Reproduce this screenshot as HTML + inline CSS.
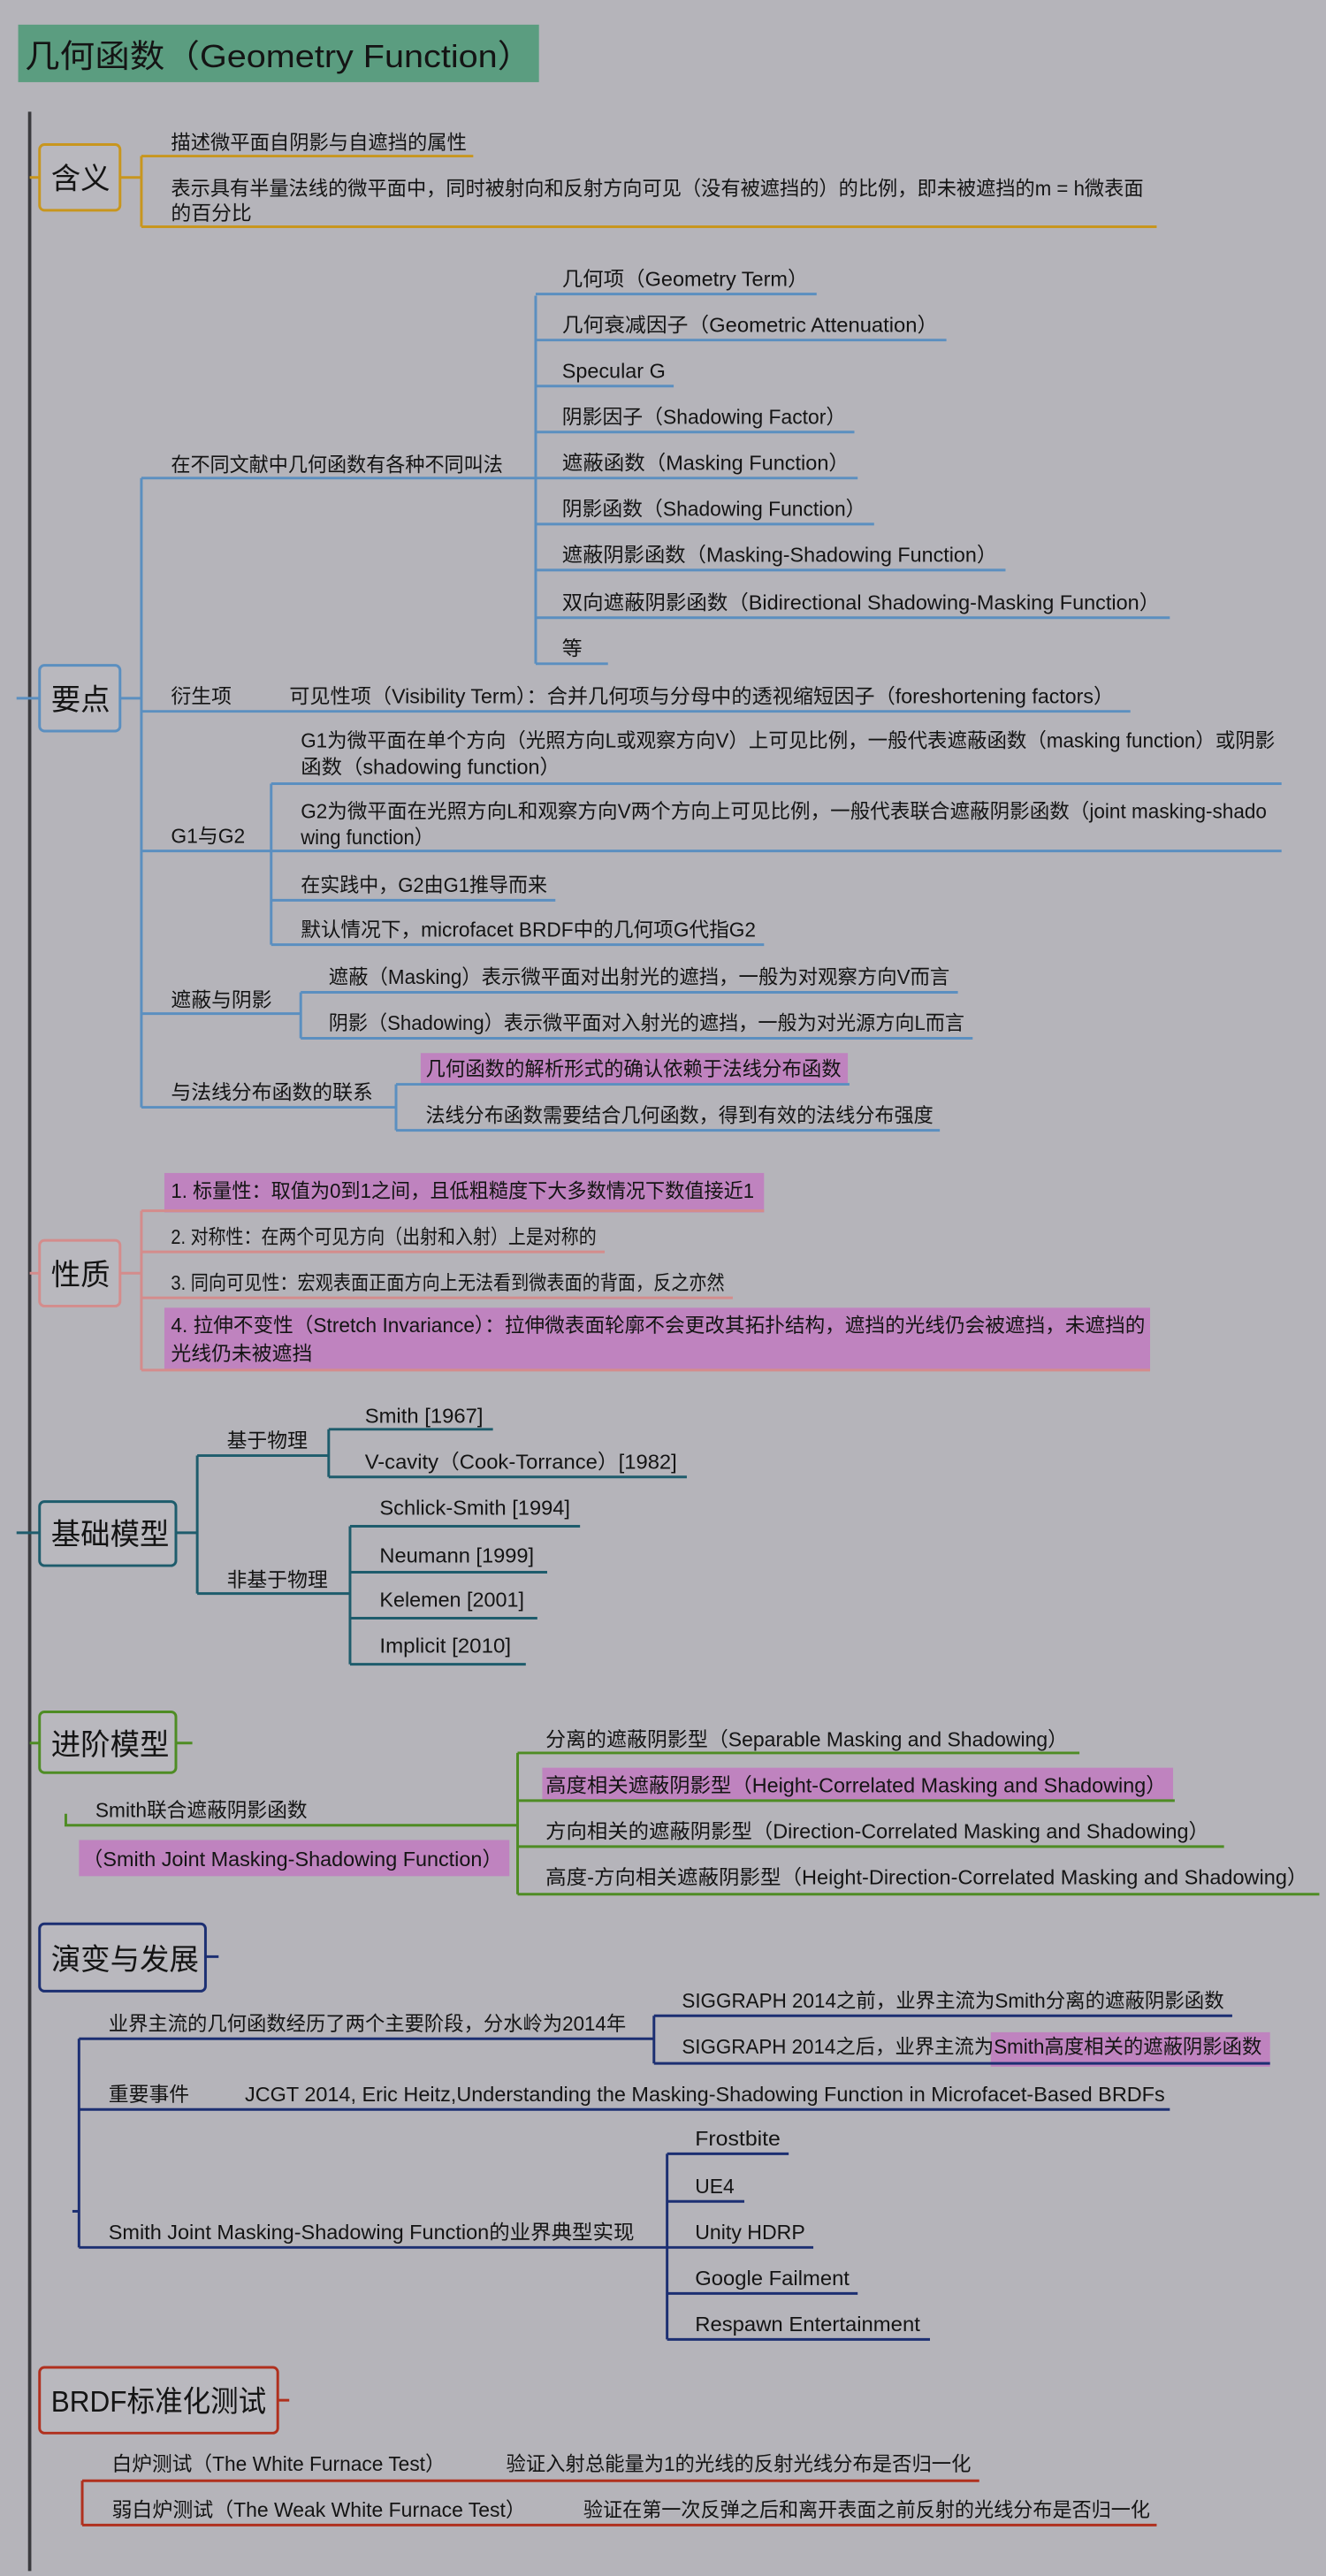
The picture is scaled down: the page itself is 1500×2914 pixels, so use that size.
<!DOCTYPE html>
<html><head><meta charset="utf-8"><style>
html,body{margin:0;padding:0;background:#b5b4ba;}
svg{display:block;}
text{font-family:"Liberation Sans","Noto Sans CJK SC",sans-serif;fill:#141414;font-size:12.3px;}
.b{font-size:18px;}
</style></head><body>
<svg width="1500" height="2914" viewBox="0 0 807 1568" xmlns="http://www.w3.org/2000/svg">
<rect x="0" y="0" width="807" height="1568" fill="#b5b4ba"/>
<!-- title -->
<rect x="11" y="15" width="317" height="35" fill="#5b9d80"/>
<text x="15" y="41" style="font-size:19.5px" textLength="309" lengthAdjust="spacingAndGlyphs">几何函数（Geometry Function）</text>
<!-- main line -->
<line x1="18" y1="68" x2="18" y2="1565" stroke="#3a3a3e" stroke-width="2"/>

<!-- 含义 -->
<g stroke="#c8961e" stroke-width="1.6" fill="none">
<line x1="18" y1="108" x2="24" y2="108"/>
<rect x="24" y="88" width="49" height="40" rx="3" fill="#b9b8be"/>
<line x1="73" y1="108" x2="86" y2="108"/>
<path d="M86 95 V138"/>
<line x1="86" y1="95" x2="288" y2="95"/>
<line x1="86" y1="138" x2="704" y2="138"/>
</g>
<text class="b" x="31" y="115">含义</text>
<text x="104" y="91" textLength="180" lengthAdjust="spacingAndGlyphs">描述微平面自阴影与自遮挡的属性</text>
<text x="104" y="119" textLength="592" lengthAdjust="spacingAndGlyphs">表示具有半量法线的微平面中，同时被射向和反射方向可见（没有被遮挡的）的比例，即未被遮挡的m = h微表面</text>
<text x="104" y="134">的百分比</text>

<!-- 要点 -->
<g stroke="#5b8fc0" stroke-width="1.6" fill="none">
<line x1="10" y1="425" x2="24" y2="425"/>
<rect x="24" y="405" width="49" height="40" rx="3" fill="#b9b8be"/>
<line x1="73" y1="425" x2="86" y2="425"/>
<path d="M86 291 V674"/>
<line x1="86" y1="291" x2="326" y2="291"/>
<path d="M326 180 V404"/>
<line x1="326" y1="179" x2="497" y2="179"/>
<line x1="326" y1="207" x2="576" y2="207"/>
<line x1="326" y1="235" x2="410" y2="235"/>
<line x1="326" y1="263" x2="520" y2="263"/>
<line x1="326" y1="291" x2="522" y2="291"/>
<line x1="326" y1="319" x2="532" y2="319"/>
<line x1="326" y1="347" x2="612" y2="347"/>
<line x1="326" y1="376" x2="712" y2="376"/>
<line x1="326" y1="404" x2="370" y2="404"/>
<line x1="86" y1="433" x2="688" y2="433"/>
<line x1="86" y1="518" x2="165" y2="518"/>
<path d="M165 477 V575"/>
<line x1="165" y1="477" x2="780" y2="477"/>
<line x1="165" y1="518" x2="780" y2="518"/>
<line x1="165" y1="548" x2="338" y2="548"/>
<line x1="165" y1="575" x2="465" y2="575"/>
<line x1="86" y1="617" x2="183" y2="617"/>
<path d="M183 604 V632"/>
<line x1="183" y1="604" x2="583" y2="604"/>
<line x1="183" y1="632" x2="592" y2="632"/>
<line x1="86" y1="674" x2="241" y2="674"/>
<path d="M241 660 V688"/>
</g>
<rect x="256" y="641" width="260" height="19" fill="#bf83bf"/>
<g stroke="#5b8fc0" stroke-width="1.6">
<line x1="241" y1="660" x2="517" y2="660"/>
<line x1="241" y1="688" x2="572" y2="688"/>
</g>
<text class="b" x="31" y="432">要点</text>
<text x="104" y="287" textLength="202" lengthAdjust="spacingAndGlyphs">在不同文献中几何函数有各种不同叫法</text>
<text x="342" y="174" textLength="150" lengthAdjust="spacingAndGlyphs">几何项（Geometry Term）</text>
<text x="342" y="202" textLength="229" lengthAdjust="spacingAndGlyphs">几何衰减因子（Geometric Attenuation）</text>
<text x="342" y="230" textLength="63" lengthAdjust="spacingAndGlyphs">Specular G</text>
<text x="342" y="258" textLength="173" lengthAdjust="spacingAndGlyphs">阴影因子（Shadowing Factor）</text>
<text x="342" y="286" textLength="175" lengthAdjust="spacingAndGlyphs">遮蔽函数（Masking Function）</text>
<text x="342" y="314" textLength="185" lengthAdjust="spacingAndGlyphs">阴影函数（Shadowing Function）</text>
<text x="342" y="342" textLength="265" lengthAdjust="spacingAndGlyphs">遮蔽阴影函数（Masking-Shadowing Function）</text>
<text x="342" y="371" textLength="364" lengthAdjust="spacingAndGlyphs">双向遮蔽阴影函数（Bidirectional Shadowing-Masking Function）</text>
<text x="342" y="399">等</text>
<text x="104" y="428">衍生项</text>
<text x="176" y="428" textLength="502" lengthAdjust="spacingAndGlyphs">可见性项（Visibility Term）：合并几何项与分母中的透视缩短因子（foreshortening factors）</text>
<text x="104" y="513">G1与G2</text>
<text x="183" y="455" textLength="593" lengthAdjust="spacingAndGlyphs">G1为微平面在单个方向（光照方向L或观察方向V）上可见比例，一般代表遮蔽函数（masking function）或阴影</text>
<text x="183" y="471" textLength="158" lengthAdjust="spacingAndGlyphs">函数（shadowing function）</text>
<text x="183" y="498" textLength="588" lengthAdjust="spacingAndGlyphs">G2为微平面在光照方向L和观察方向V两个方向上可见比例，一般代表联合遮蔽阴影函数（joint masking-shado</text>
<text x="183" y="514" textLength="81" lengthAdjust="spacingAndGlyphs">wing function）</text>
<text x="183" y="543" textLength="150" lengthAdjust="spacingAndGlyphs">在实践中，G2由G1推导而来</text>
<text x="183" y="570" textLength="277" lengthAdjust="spacingAndGlyphs">默认情况下，microfacet BRDF中的几何项G代指G2</text>
<text x="104" y="613">遮蔽与阴影</text>
<text x="200" y="599" textLength="378" lengthAdjust="spacingAndGlyphs">遮蔽（Masking）表示微平面对出射光的遮挡，一般为对观察方向V而言</text>
<text x="200" y="627" textLength="387" lengthAdjust="spacingAndGlyphs">阴影（Shadowing）表示微平面对入射光的遮挡，一般为对光源方向L而言</text>
<text x="104" y="669">与法线分布函数的联系</text>
<text x="259" y="655" textLength="253" lengthAdjust="spacingAndGlyphs">几何函数的解析形式的确认依赖于法线分布函数</text>
<text x="259" y="683" textLength="309" lengthAdjust="spacingAndGlyphs">法线分布函数需要结合几何函数，得到有效的法线分布强度</text>

<!-- 性质 -->
<rect x="100" y="714" width="365" height="24" fill="#bf83bf"/>
<rect x="100" y="796" width="600" height="38" fill="#bf83bf"/>
<g stroke="#d48c8c" stroke-width="1.6" fill="none">
<line x1="18" y1="775" x2="24" y2="775"/>
<rect x="24" y="755" width="49" height="40" rx="3" fill="#b9b8be"/>
<line x1="73" y1="775" x2="86" y2="775"/>
<path d="M86 737 V834"/>
<line x1="86" y1="737" x2="465" y2="737"/>
<line x1="86" y1="762" x2="368" y2="762"/>
<line x1="86" y1="790" x2="446" y2="790"/>
<line x1="86" y1="834" x2="700" y2="834"/>
</g>
<text class="b" x="31" y="782">性质</text>
<text x="104" y="729" textLength="355" lengthAdjust="spacingAndGlyphs">1. 标量性：取值为0到1之间，且低粗糙度下大多数情况下数值接近1</text>
<text x="104" y="757" textLength="259" lengthAdjust="spacingAndGlyphs">2. 对称性：在两个可见方向（出射和入射）上是对称的</text>
<text x="104" y="785" textLength="337" lengthAdjust="spacingAndGlyphs">3. 同向可见性：宏观表面正面方向上无法看到微表面的背面，反之亦然</text>
<text x="104" y="811" textLength="593" lengthAdjust="spacingAndGlyphs">4. 拉伸不变性（Stretch Invariance）：拉伸微表面轮廓不会更改其拓扑结构，遮挡的光线仍会被遮挡，未遮挡的</text>
<text x="104" y="828">光线仍未被遮挡</text>

<!-- 基础模型 -->
<g stroke="#1e5c6c" stroke-width="1.6" fill="none">
<line x1="10" y1="933" x2="24" y2="933"/>
<rect x="24" y="914" width="83" height="39" rx="3" fill="#b9b8be"/>
<line x1="107" y1="933" x2="120" y2="933"/>
<path d="M120 886 V970"/>
<line x1="120" y1="886" x2="200" y2="886"/>
<path d="M200 870 V899"/>
<line x1="200" y1="870" x2="300" y2="870"/>
<line x1="200" y1="899" x2="418" y2="899"/>
<line x1="120" y1="970" x2="213" y2="970"/>
<path d="M213 929 V1013"/>
<line x1="213" y1="929" x2="353" y2="929"/>
<line x1="213" y1="957" x2="333" y2="957"/>
<line x1="213" y1="985" x2="327" y2="985"/>
<line x1="213" y1="1013" x2="320" y2="1013"/>
</g>
<text class="b" x="31" y="940">基础模型</text>
<text x="138" y="881">基于物理</text>
<text x="222" y="866" textLength="72" lengthAdjust="spacingAndGlyphs">Smith [1967]</text>
<text x="222" y="894" textLength="190" lengthAdjust="spacingAndGlyphs">V-cavity（Cook-Torrance）[1982]</text>
<text x="138" y="966">非基于物理</text>
<text x="231" y="922" textLength="116" lengthAdjust="spacingAndGlyphs">Schlick-Smith [1994]</text>
<text x="231" y="951" textLength="94" lengthAdjust="spacingAndGlyphs">Neumann [1999]</text>
<text x="231" y="978" textLength="88" lengthAdjust="spacingAndGlyphs">Kelemen [2001]</text>
<text x="231" y="1006" textLength="80" lengthAdjust="spacingAndGlyphs">Implicit [2010]</text>

<!-- 进阶模型 -->
<rect x="48" y="1120" width="262" height="22" fill="#bf83bf"/>
<rect x="330" y="1076" width="384" height="20" fill="#bf83bf"/>
<g stroke="#4e8c24" stroke-width="1.6" fill="none">
<line x1="18" y1="1061" x2="24" y2="1061"/>
<rect x="24" y="1042" width="83" height="37" rx="3" fill="#b9b8be"/>
<line x1="107" y1="1061" x2="117" y2="1061"/>
<path d="M40 1104 V1111 H315"/>
<path d="M315 1067 V1153"/>
<line x1="315" y1="1067" x2="657" y2="1067"/>
<line x1="315" y1="1096" x2="715" y2="1096"/>
<line x1="315" y1="1124" x2="745" y2="1124"/>
<line x1="315" y1="1153" x2="803" y2="1153"/>
</g>
<text class="b" x="31" y="1068">进阶模型</text>
<text x="58" y="1106" textLength="129" lengthAdjust="spacingAndGlyphs">Smith联合遮蔽阴影函数</text>
<text x="50" y="1136" textLength="256" lengthAdjust="spacingAndGlyphs">（Smith Joint Masking-Shadowing Function）</text>
<text x="332" y="1063" textLength="318" lengthAdjust="spacingAndGlyphs">分离的遮蔽阴影型（Separable Masking and Shadowing）</text>
<text x="332" y="1091" textLength="378" lengthAdjust="spacingAndGlyphs">高度相关遮蔽阴影型（Height-Correlated Masking and Shadowing）</text>
<text x="332" y="1119" textLength="404" lengthAdjust="spacingAndGlyphs">方向相关的遮蔽阴影型（Direction-Correlated Masking and Shadowing）</text>
<text x="332" y="1147" textLength="464" lengthAdjust="spacingAndGlyphs">高度-方向相关遮蔽阴影型（Height-Direction-Correlated Masking and Shadowing）</text>

<!-- 演变与发展 -->
<rect x="603" y="1237" width="170" height="21" fill="#bf83bf"/>
<g stroke="#1c2f72" stroke-width="1.6" fill="none">
<rect x="24" y="1171" width="101" height="41" rx="3" fill="#b9b8be"/>
<line x1="125" y1="1191" x2="133" y2="1191"/>
<path d="M48 1241 V1368"/>
<line x1="44" y1="1346" x2="48" y2="1346"/>
<line x1="48" y1="1241" x2="398" y2="1241"/>
<path d="M398 1227 V1256"/>
<line x1="398" y1="1227" x2="750" y2="1227"/>
<line x1="398" y1="1256" x2="773" y2="1256"/>
<line x1="48" y1="1284" x2="712" y2="1284"/>
<line x1="48" y1="1368" x2="406" y2="1368"/>
<path d="M406 1311 V1424"/>
<line x1="406" y1="1311" x2="480" y2="1311"/>
<line x1="406" y1="1340" x2="453" y2="1340"/>
<line x1="406" y1="1368" x2="495" y2="1368"/>
<line x1="406" y1="1396" x2="522" y2="1396"/>
<line x1="406" y1="1424" x2="566" y2="1424"/>
</g>
<text class="b" x="31" y="1199">演变与发展</text>
<text x="66" y="1236" textLength="315" lengthAdjust="spacingAndGlyphs">业界主流的几何函数经历了两个主要阶段，分水岭为2014年</text>
<text x="415" y="1222" textLength="330" lengthAdjust="spacingAndGlyphs">SIGGRAPH 2014之前，业界主流为Smith分离的遮蔽阴影函数</text>
<text x="415" y="1250" textLength="353" lengthAdjust="spacingAndGlyphs">SIGGRAPH 2014之后，业界主流为Smith高度相关的遮蔽阴影函数</text>
<text x="66" y="1279">重要事件</text>
<text x="149" y="1279" textLength="560" lengthAdjust="spacingAndGlyphs">JCGT 2014, Eric Heitz,Understanding the Masking-Shadowing Function in Microfacet-Based BRDFs</text>
<text x="66" y="1363" textLength="320" lengthAdjust="spacingAndGlyphs">Smith Joint Masking-Shadowing Function的业界典型实现</text>
<text x="423" y="1306" textLength="52" lengthAdjust="spacingAndGlyphs">Frostbite</text>
<text x="423" y="1335">UE4</text>
<text x="423" y="1363" textLength="67" lengthAdjust="spacingAndGlyphs">Unity HDRP</text>
<text x="423" y="1391" textLength="94" lengthAdjust="spacingAndGlyphs">Google Failment</text>
<text x="423" y="1419" textLength="137" lengthAdjust="spacingAndGlyphs">Respawn Entertainment</text>

<!-- BRDF -->
<g stroke="#b0301e" stroke-width="1.6" fill="none">
<rect x="24" y="1441" width="145" height="40" rx="3" fill="#b9b8be"/>
<line x1="169" y1="1461" x2="176" y2="1461"/>
<path d="M50 1510 V1537"/>
<line x1="50" y1="1510" x2="596" y2="1510"/>
<line x1="50" y1="1537" x2="704" y2="1537"/>
</g>
<text class="b" x="31" y="1468" textLength="131" lengthAdjust="spacingAndGlyphs">BRDF标准化测试</text>
<text x="68" y="1504" textLength="203" lengthAdjust="spacingAndGlyphs">白炉测试（The White Furnace Test）</text>
<text x="308" y="1504" textLength="283" lengthAdjust="spacingAndGlyphs">验证入射总能量为1的光线的反射光线分布是否归一化</text>
<text x="68" y="1532" textLength="252" lengthAdjust="spacingAndGlyphs">弱白炉测试（The Weak White Furnace Test）</text>
<text x="355" y="1532" textLength="345" lengthAdjust="spacingAndGlyphs">验证在第一次反弹之后和离开表面之前反射的光线分布是否归一化</text>
</svg>
</body></html>
